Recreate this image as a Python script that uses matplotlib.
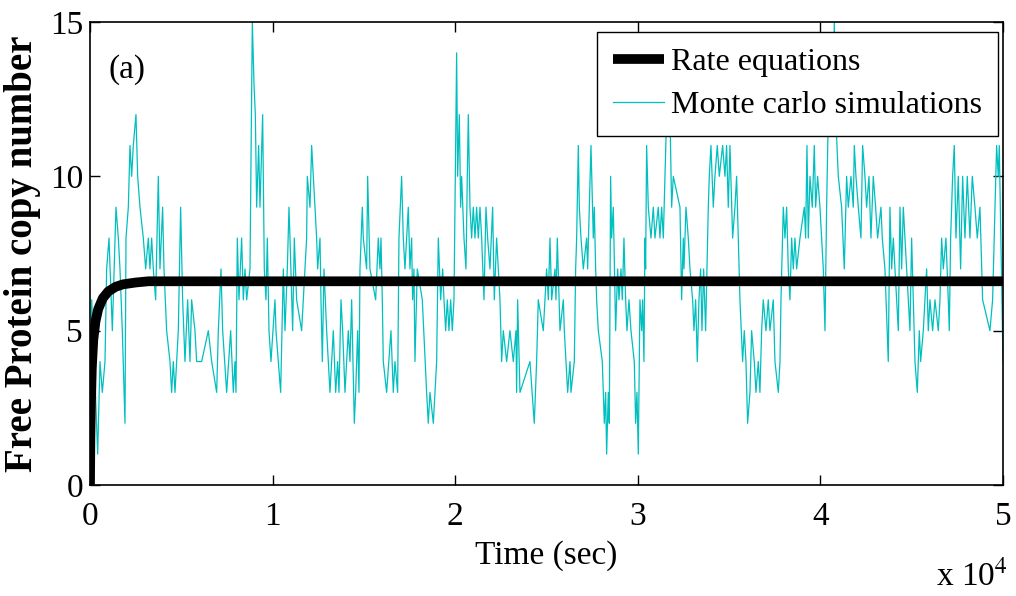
import matplotlib
matplotlib.use("Agg")
import matplotlib.pyplot as plt
import numpy as np

# ── Data (time in seconds) ───────────────────────────────────────────────────
rate_t = [0, 20, 50, 100, 180, 300, 450, 700, 1000, 1400, 1800, 2500, 3200, 50000]
rate_n = [0, 1.5, 2.6, 3.8, 4.7, 5.3, 5.7, 6.05, 6.27, 6.42, 6.5, 6.56, 6.6, 6.6]

mc_t = [
    0, 91, 237, 420, 547, 675, 821, 912, 1040, 1223, 1423, 1551, 1642, 1770, 1916,
    1971, 2099, 2190, 2281, 2372, 2518, 2610, 2737, 2920, 3048, 3194, 3285, 3376,
    3467, 3595, 3741, 3832, 3978, 4051, 4197, 4380, 4471, 4562, 4654, 4836, 4964,
    5073, 5201, 5347, 5475, 5566, 5749, 5840,
    6115, 6480, 6663, 6937, 7028, 7174, 7265, 7484, 7703, 7849, 7940, 7995, 8068,
    8159, 8305, 8397, 8488, 8579, 8762, 8889, 8981, 9054, 9127, 9236, 9309, 9455,
    9546, 9638, 9711, 9802, 9911, 10130, 10185, 10441, 10587, 10678, 10806, 10897,
    10952, 11098, 11189, 11317, 11590, 11773, 11864, 11901, 12047, 12138,
    12321, 12412, 12467, 12595, 12650, 12723, 12814, 12960, 13142, 13325, 13453,
    13562, 13635, 13745, 13836, 13964, 14055, 14146, 14237, 14329, 14475, 14548,
    14657, 14730, 14785, 14913, 14967, 15150, 15205, 15332, 15643, 15789, 15880,
    15935, 16008, 16062, 16245, 16482, 16610, 16701, 16847, 16920, 16993, 17066,
    17157, 17249, 17340, 17431, 17522, 17614, 17668, 17741, 17796, 17924, 18198,
    18435, 18526,
    18619, 18802, 18893, 18984, 19075, 19203, 19313, 19386, 19477, 19568, 19659,
    19751, 19842, 19933, 19988, 20079, 20134, 20225, 20298, 20353, 20481, 20590,
    20663, 20718, 20809, 20900, 20992, 21083, 21174, 21265, 21357, 21448, 21576,
    21685, 21776, 21904, 22050, 22141, 22269, 22360, 22452, 22543, 22634, 22817,
    22999, 23182, 23328, 23364, 23419, 23547, 24094, 24331, 24459, 24550, 24824,
    24917, 25008, 25100, 25191, 25282, 25465, 25519, 25592, 25738, 25921, 25976,
    26158, 26286, 26341, 26523, 26596, 26651, 26742, 26797, 26888, 27016, 27198,
    27253, 27344, 27436, 27563, 27618, 27691, 27746, 27837, 28056, 28166, 28239,
    28293, 28385, 28439, 28512, 28567, 28658, 28750, 28786, 28896, 28969, 29078,
    29151, 29242, 29334, 29407, 29516, 29626, 29808, 29881, 29954, 30027, 30118,
    30210, 30264, 30337, 30392, 30429, 30483, 30575, 30721, 30849, 30940, 31122,
    31214, 31305, 31397, 31488, 31579, 31670, 31762, 31853, 31944, 32309, 32400,
    32492, 32528, 32638, 32765, 32857, 33003, 33076, 33167, 33258, 33349, 33441,
    33514, 33605, 33714, 33860, 33915, 34006, 34134, 34225, 34353, 34463, 34645,
    34773, 34864, 34955, 35047, 35193, 35320, 35412, 35503, 35594, 35740, 35831,
    35923, 36014, 36142, 36233, 36379, 36470, 36598, 36689, 36781, 36872, 37018,
    37146, 37237, 37419,
    37512, 37695, 37786, 37841, 37968, 38060, 38151, 38242, 38333, 38425, 38516,
    38607, 38698, 38881, 39118, 39191, 39264, 39337, 39428, 39556, 39666, 39739,
    39848, 39976, 40158, 40250, 40341, 40432, 40615, 40706, 40761, 40834, 40980,
    41162, 41308, 41436, 41527, 41673, 41801, 41856, 41947, 42075, 42221, 42312,
    42440, 42531, 42659, 42768, 42896, 43024, 43133, 43316, 43389, 43535, 43717,
    43810, 43901, 43993, 44084, 44266, 44358, 44449, 44540, 44631, 44723, 44814,
    44905, 44996, 45088, 45179, 45307, 45416, 45489, 45635, 45726, 45818, 45909,
    46000, 46146, 46274, 46456, 46548, 46639, 46730, 46876, 47004, 47059, 47132,
    47241, 47332, 47424, 47551, 47679, 47789, 47916, 48044, 48190, 48318, 48464,
    48592, 48738, 48884, 49285, 49431, 49559, 49650, 49741, 49796, 50000,
]
mc_n = [
    0, 6, 4, 1, 4, 3, 4, 7, 8, 5, 9, 8, 7, 5, 2,
    8, 9, 11, 10, 11, 12, 10, 9, 8, 7, 8, 7, 8,
    7, 6, 10, 7, 9, 7, 5, 4, 3, 4, 3, 5, 9,
    6, 4, 6, 4, 6, 5, 4,
    4, 5, 4, 3, 5, 7, 5, 3, 5, 3, 4, 3, 8,
    6, 8, 6, 7, 6, 7, 15, 13, 12, 9, 11, 9, 12,
    7, 6, 8, 5, 4, 6, 5, 3, 7, 5, 7, 9,
    8, 5, 8, 6, 5, 7, 8, 10, 9, 11,
    9, 8, 7, 8, 6, 4, 7, 5, 3, 5, 3,
    4, 3, 6, 5, 3, 4, 5, 4, 6, 2, 3,
    5, 3, 7, 9, 8, 7, 10, 7, 6, 8, 7,
    8, 6, 4, 3, 5, 3, 4, 3, 8, 9, 10,
    8, 7, 8, 9, 7, 8, 6, 7, 4, 7, 6,
    3, 2,
    3, 2, 3, 4, 8, 6, 7, 6, 5, 6, 5,
    6, 5, 6, 9, 14, 10, 12, 9, 10, 8, 7,
    10, 12, 9, 8, 9, 8, 9, 8, 9, 8, 6,
    9, 8, 7, 9, 6, 8, 7, 6, 4, 5, 4,
    5, 4, 5, 3, 6, 3, 4, 2, 4, 6, 5,
    6, 7, 6, 8, 6, 7, 6, 8, 5, 6, 5,
    3, 4, 3, 4, 7, 8, 11, 9, 8, 7, 8,
    7, 9, 11, 8, 9, 7, 6, 5, 4, 2, 3,
    1, 3, 2, 10, 8, 9, 6, 5, 7, 6, 7,
    6, 8, 6, 5, 6, 5, 4, 2, 3, 1, 6,
    5, 6, 4, 8, 7, 11, 9, 8, 9, 8, 9,
    8, 9, 8, 10, 12, 13, 12, 9, 10, 9, 6,
    8, 7, 9, 8, 7, 6, 5, 6, 4, 6, 7,
    5, 7, 5, 9, 10, 11, 9, 10, 11, 10, 11,
    10, 11, 9, 11, 8, 9, 10, 8, 6, 4, 5,
    4, 2, 3, 5, 4, 3, 4, 3, 5, 6, 5,
    6, 5, 6,
    4, 3, 4, 6, 9, 8, 9, 7, 6, 8, 7,
    8, 7, 8, 9, 8, 11, 8, 10, 9, 11, 9,
    10, 9, 7, 5, 9, 12, 12, 13, 15, 12, 10,
    9, 7, 10, 9, 10, 9, 11, 10, 9, 8, 11,
    10, 9, 10, 8, 10, 9, 8, 9, 8, 7, 4,
    9, 7, 8, 7, 5, 9, 7, 9, 8, 7, 6,
    5, 8, 6, 4, 3, 5, 4, 5, 6, 7, 5,
    6, 5, 6, 5, 6, 8, 7, 8, 6, 5, 8,
    10, 11, 8, 10, 7, 10, 8, 10, 8, 10, 9,
    8, 9, 6, 5, 6, 9, 11, 10, 11, 4,
]

x_ticks = [0, 10000, 20000, 30000, 40000, 50000]
x_ticklabels = ["0", "1", "2", "3", "4", "5"]
y_ticks = [0, 5, 10, 15]

plt.rcParams["font.family"] = ["Liberation Serif", "DejaVu Serif"]
plt.rcParams["mathtext.fontset"] = "stix"

fig = plt.figure(figsize=(10.16, 5.96), dpi=100)
ax = fig.add_axes([90 / 1016, 1 - 485 / 596, 913 / 1016, 463 / 596])

ax.plot(rate_t, rate_n, color="black", lw=7, solid_capstyle="butt",
        label="Rate equations", zorder=3)
ax.plot(mc_t, mc_n, color="#00BFBF", lw=0.9, label="Monte carlo simulations",
        zorder=2)

ax.set_xlim(0, 50000)
ax.set_ylim(0, 15)
ax.set_xticks(x_ticks)
ax.set_xticklabels(x_ticklabels)
ax.set_yticks(y_ticks)
ax.tick_params(direction="in", length=7, width=1, top=True, right=True,
               labelsize=24)
ax.tick_params(axis="x", pad=12)
ax.tick_params(axis="y", pad=5)
for s in ax.spines.values():
    s.set_linewidth(1.2)

ax.set_xlabel("Time (sec)", fontsize=24, labelpad=6)
ax.set_ylabel("Free Protein copy number", fontsize=28, fontweight="bold",
              labelpad=6)
ax.text(0.02, 0.93, "(a)", transform=ax.transAxes, fontsize=24,
        va="top", ha="left")

fig.text(936 / 1016, 1 - 592 / 596, r"x 10$^{4}$", fontsize=24,
         ha="left", va="bottom")

leg = ax.legend(loc="upper right", bbox_to_anchor=(0.994, 0.979),
                fontsize=23, frameon=True, fancybox=False, framealpha=1,
                edgecolor="black", handlelength=1.6, handletextpad=0.2,
                borderpad=0.5, labelspacing=0.42, borderaxespad=0)
leg.get_frame().set_linewidth(1.0)
leg.set_zorder(5)

fig.savefig("out.png", dpi=100)
